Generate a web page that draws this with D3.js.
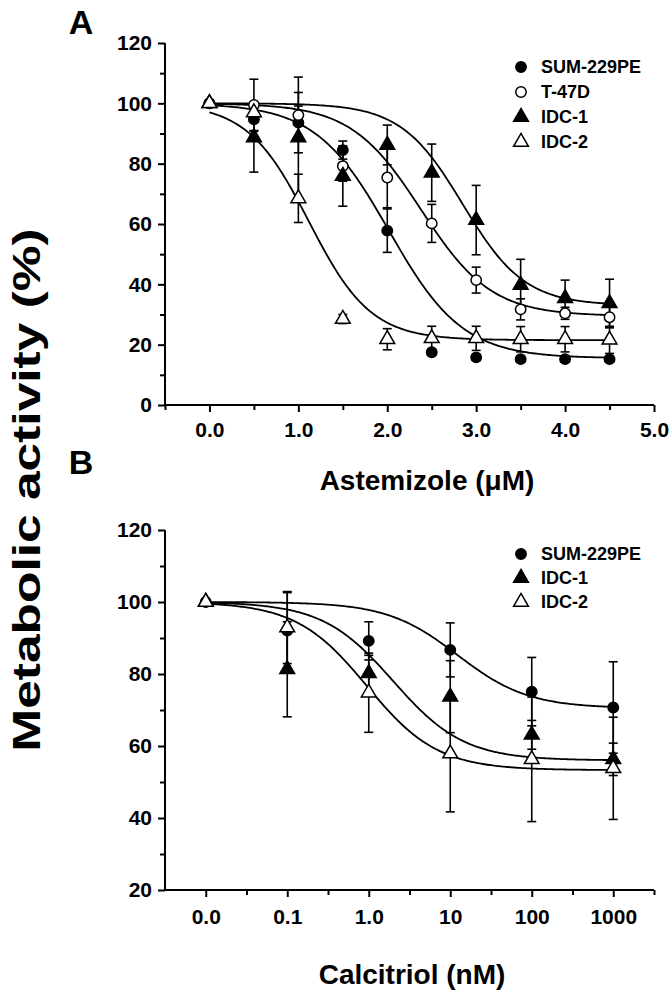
<!DOCTYPE html>
<html><head><meta charset="utf-8">
<script src="https://cdn.jsdelivr.net/npm/d3@7"></script>
<style>
body{margin:0;background:#fff}
svg{display:block}
text{font-family:"Liberation Sans",Arial,sans-serif;font-weight:bold;fill:#000}
</style></head>
<body><svg id="c" width="672" height="999"></svg>
<script>
// ---------- Panel A data (Astemizole, µM) ----------
const doseA = [0, 0.5, 1, 1.5, 2, 2.5, 3, 3.5, 4, 4.5];
const namesA = ["SUM-229PE", "T-47D", "IDC-1", "IDC-2"];
const sumA   = [100, 94.7, 93.6, 84.5, 57.8, 17.5, 15.8, 15.2, 15.2, 15.2];
const sumAErr= [0, 4, 10, 3, 7.2, 1, 1, 1, 1, 1];
const t47A   = [100, 99.5, 96.1, 79.2, 75.4, 60.2, 41.4, 31.7, 30.4, 29.1];
const t47AErr= [0, 8.5, 3, 5, 10, 6.3, 4.3, 3.5, 2, 3.5];
const idc1A  = [100, 88.7, 88.7, 75.9, 86.2, 77, 61.3, 39.8, 35.4, 33.7];
const idc1AErr=[0, 11.5, 20, 10, 6.6, 9.5, 11.5, 8.5, 6, 8];
const idc2A  = [100, 97, 68.5, 28.5, 21.8, 22.1, 22.1, 21.8, 21.8, 21.6];
const idc2AErr=[0, 3, 8, 1.5, 3.5, 4, 4, 4.2, 4.2, 4.5];
// fitted dose-response parameters (bottom, top, x50, slope)
const fitBottomA = [15.5, 29.5, 33, 21.5];
const fitTopA    = [100, 100, 100, 100];
const fitX50A    = [2.02, 2.38, 2.85, 1.12];
const fitSlopeA  = [1.05, 1.1, 1.25, 1.25];
const xTicksA = [0, 1, 2, 3, 4, 5];
const yTicksA = [0, 20, 40, 60, 80, 100, 120];

// ---------- Panel B data (Calcitriol, nM) ----------
const doseB = [0.01, 0.1, 1, 10, 100, 1000];
const doseLabelsB = ["0.0", "0.1", "1.0", "10", "100", "1000"];
const namesB = ["SUM-229PE", "IDC-1", "IDC-2"];
const sumB    = [100, 92.1, 89.2, 86.7, 75.1, 70.7];
const sumBErr = [0, 10.5, 5.3, 7.5, 9.5, 12.7];
const idc1B   = [100, 81.3, 80.2, 73.7, 63.1, 56.3];
const idc1BErr= [0, 13.2, 5, 10, 4, 4.5];
const idc2B   = [100, 92.9, 74.8, 57.9, 56.3, 53.8];
const idc2BErr= [0, 10, 11, 16.2, 17.3, 14.2];
const fitBottomB = [70.5, 56, 53.3];
const fitTopB    = [100, 100, 100];
const fitEC50B   = [12.3, 2.0, 0.95];
const fitSlopeB  = [1.0, 1.0, 1.0];
const yTicksB = [20, 40, 60, 80, 100, 120];

const markers = {"SUM-229PE":"fc","T-47D":"oc","IDC-1":"ft","IDC-2":"ot"};

const svg = d3.select("#c");
const FONT = '"Liberation Sans",Arial,sans-serif';

function marker(g, type, x, y) {
  const isCircle = type[1] === "c";
  const sym = d3.symbol().type(isCircle ? d3.symbolCircle : d3.symbolTriangle).size(isCircle ? 85 : 95);
  g.append("path").attr("d", sym()).attr("transform", `translate(${x},${y})`)
    .attr("fill", type[0] === "f" ? "#000" : "#fff").attr("stroke", "#000").attr("stroke-width", 1.5);
}

function drawAxes(g, x, y, majorX, minorX, majorY, minorY, xFmt, xPad) {
  const ax = g.append("g").attr("transform", `translate(0,${y.range()[0]})`);
  ax.call(d3.axisBottom(x).tickValues(minorX).tickSize(5).tickFormat(""));
  ax.select(".domain").remove();
  const ax2 = g.append("g").attr("transform", `translate(0,${y.range()[0]})`)
    .call(d3.axisBottom(x).tickValues(majorX).tickSize(7).tickPadding(xPad).tickFormat(xFmt));
  ax2.select(".domain").remove();
  ax2.selectAll("text").attr("font-size", 21);
  const ay = g.append("g").attr("transform", `translate(${x.range()[0]},0)`);
  ay.call(d3.axisLeft(y).tickValues(minorY).tickSize(5).tickFormat(""));
  ay.select(".domain").remove();
  const ay2 = g.append("g").attr("transform", `translate(${x.range()[0]},0)`)
    .call(d3.axisLeft(y).tickValues(majorY).tickSize(7).tickPadding(6).tickFormat(d3.format("d")));
  ay2.select(".domain").remove();
  ay2.selectAll("text").attr("font-size", 21);
  g.selectAll(".tick line").attr("stroke", "#000").attr("stroke-width", 2);
  g.selectAll(".tick text").style("font-family", FONT).style("font-weight", "bold");
  g.append("line").attr("x1", x.range()[0]).attr("x2", x.range()[1])
    .attr("y1", y.range()[0]).attr("y2", y.range()[0]).attr("stroke", "#000").attr("stroke-width", 2);
  g.append("line").attr("x1", x.range()[0]).attr("x2", x.range()[0])
    .attr("y1", y.range()[0] + 1).attr("y2", y.range()[1]).attr("stroke", "#000").attr("stroke-width", 2);
}

function errBars(g, xs, ys, es, x, y) {
  xs.forEach((d, i) => {
    if (!es[i]) return;
    const cx = x(d), y1 = y(ys[i] - es[i]), y2 = y(ys[i] + es[i]);
    g.append("line").attr("x1", cx).attr("x2", cx).attr("y1", y1).attr("y2", y2).attr("stroke", "#000").attr("stroke-width", 1.6);
    [y1, y2].forEach(yy => g.append("line").attr("x1", cx - 4.5).attr("x2", cx + 4.5).attr("y1", yy).attr("y2", yy).attr("stroke", "#000").attr("stroke-width", 1.6));
  });
}

function legend(g, names, x0, y0, dy) {
  names.forEach((n, i) => {
    marker(g, markers[n], x0, y0 + i * dy);
    g.append("text").attr("x", x0 + 20).attr("y", y0 + i * dy).attr("dy", "0.36em").attr("font-size", 18).text(n);
  });
}

// ---------- Panel A ----------
const xA = d3.scaleLinear().domain([-0.5, 5]).range([165, 654]);
const yA = d3.scaleLinear().domain([0, 120]).range([405, 43]);
const gA = svg.append("g");
drawAxes(gA, xA, yA, xTicksA, d3.range(-0.5, 5.01, 0.5).filter(v => Math.abs(v % 1) > 0.1), yTicksA,
  d3.range(10, 120, 20), d3.format(".1f"), 10);
const line = d3.line().curve(d3.curveLinear);
const dataA = [[sumA, sumAErr], [t47A, t47AErr], [idc1A, idc1AErr], [idc2A, idc2AErr]];
namesA.forEach((n, k) => {
  const pts = d3.range(0, 4.5001, 0.02).map(v => {
    const yv = fitBottomA[k] + (fitTopA[k] - fitBottomA[k]) / (1 + Math.pow(10, (v - fitX50A[k]) * fitSlopeA[k]));
    return [xA(v), yA(yv)];
  });
  gA.append("path").attr("d", line(pts)).attr("fill", "none").attr("stroke", "#000").attr("stroke-width", 1.8);
});
namesA.forEach((n, k) => errBars(gA, doseA, dataA[k][0], dataA[k][1], xA, yA));
namesA.forEach((n, k) => doseA.forEach((d, i) => marker(gA, markers[n], xA(d), yA(dataA[k][0][i]))));
legend(gA, namesA, 521, 67, 25);

// ---------- Panel B ----------
const xB = d3.scaleLog().domain([Math.pow(10, -2.5), Math.pow(10, 3.5)]).range([165, 654]);
const yB = d3.scaleLinear().domain([20, 120]).range([890, 530]);
const gB = svg.append("g");
drawAxes(gB, xB, yB, doseB, doseB.map(d => d * Math.sqrt(10)), yTicksB, d3.range(30, 120, 20),
  d => doseLabelsB[doseB.indexOf(d)], 12);
const dataB = [[sumB, sumBErr], [idc1B, idc1BErr], [idc2B, idc2BErr]];
namesB.forEach((n, k) => {
  const pts = d3.range(-2, 3.0001, 0.02).map(lv => {
    const yv = fitBottomB[k] + (fitTopB[k] - fitBottomB[k]) / (1 + Math.pow(10, (lv - Math.log10(fitEC50B[k])) * fitSlopeB[k]));
    return [xB(Math.pow(10, lv)), yB(yv)];
  });
  gB.append("path").attr("d", line(pts)).attr("fill", "none").attr("stroke", "#000").attr("stroke-width", 1.8);
});
namesB.forEach((n, k) => errBars(gB, doseB, dataB[k][0], dataB[k][1], xB, yB));
namesB.forEach((n, k) => doseB.forEach((d, i) => marker(gB, markers[n], xB(d), yB(dataB[k][0][i]))));
legend(gB, namesB, 521, 554, 24);

// ---------- titles ----------
svg.append("text").attr("x", 81).attr("y", 22).attr("dy", "0.36em").attr("text-anchor", "middle").attr("font-size", 34).text("A");
svg.append("text").attr("x", 81).attr("y", 462).attr("dy", "0.36em").attr("text-anchor", "middle").attr("font-size", 34).text("B");
svg.append("text").attr("x", 427).attr("y", 480).attr("dy", "0.36em").attr("text-anchor", "middle").attr("font-size", 28).text("Astemizole (\u03bcM)");
svg.append("text").attr("x", 412).attr("y", 974).attr("dy", "0.36em").attr("text-anchor", "middle").attr("font-size", 28).text("Calcitriol (nM)");
svg.append("text").attr("transform", "translate(26,490) rotate(-90) scale(1.32,1)").attr("dy", "0.36em").attr("text-anchor", "middle")
  .attr("font-size", 39).style("font-family", '"Liberation Sans Narrow","Liberation Sans",Arial,sans-serif').text("Metabolic activity (%)");
</script></body></html>
